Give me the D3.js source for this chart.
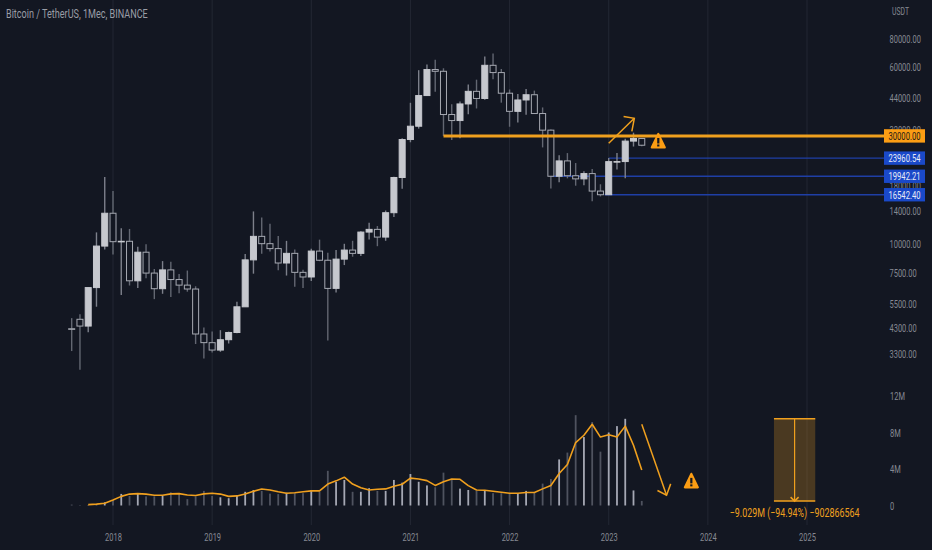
<!DOCTYPE html>
<html><head><meta charset="utf-8">
<script src="https://cdn.jsdelivr.net/npm/d3@7/dist/d3.min.js"></script>
<style>html,body{margin:0;padding:0;background:#131722;overflow:hidden}
svg text{font-family:Roboto,"Liberation Sans",sans-serif}</style>
</head><body><svg id="c" width="932" height="550"></svg>
<script>
// Month index 0 = Aug 2017
const opens=[4261,4689,4378,6463,9837,13715,10285,10326,6922,9246,7485,6391,7730,7011,6626,6369,4041,3701,3434,3814,4102,5320,8555,10854,10080,9588,8289,9140,7541,7195,9351,8523,6412,8620,9448,9138,11335,11649,10776,13791,19695,28923,33092,45134,58739,57697,37253,35045,41461,47100,43820,61299,56950,46216,38466,43160,45510,37630,31801,19942,23296,20048,19422,20490,17165,16541,23125,23141,28465,29233];
const highs=[4745,4939,6470,11300,19798,17176,11786,11700,9759,10020,7800,8450,8400,7410,7680,6550,4310,4140,4200,4140,5600,9074,13970,13147,12325,10905,10370,9500,7750,9575,10500,9188,9460,10067,10380,11444,12468,12050,14100,19863,29300,41950,58352,61844,64854,59500,41330,42448,50500,53000,67000,69000,59053,47990,45821,48190,47444,40023,31982,24668,25214,22799,20988,21480,18387,23960,25250,29184,31000,29400];
const lows=[3400,2817,4110,5325,9500,9035,6000,6600,6430,7100,5750,6070,5880,6100,6200,3652,3156,3349,3373,3670,4067,5350,7440,9100,9320,7710,7300,6515,6435,6901,8445,3782,6150,8117,8833,8893,10518,9825,10374,13195,17572,28130,32296,44950,46930,30000,28805,29278,37332,39600,43283,53256,42000,32917,34322,37155,37578,26700,17622,18781,19520,18125,18190,15476,16256,16499,21351,19549,26942,27000];
const closes=[4240,4378,6463,9838,13716,10285,10326,6923,9246,7485,6390,7730,7011,6626,6371,4041,3702,3434,3813,4103,5320,8555,10854,10080,9588,8289,9140,7541,7195,9352,8523,6410,8620,9448,9138,11335,11649,10776,13791,19695,28923,33092,45137,58740,57694,37253,35045,41461,47100,43824,61299,56950,46216,38466,43160,45510,37630,31801,19942,23293,20050,19422,20490,17164,16542,23125,23141,28465,29233,27300];
const volumes=[0.1,0.05,0.03,0.03,0.35,0.6,1.27,1.05,1.27,1,1,1.05,1.45,1.27,0.7,1,1.6,1.05,0.9,0.8,1.15,1.5,1.7,1.6,1.3,1.25,1.4,1.35,1.35,1.7,1.5,3.8,2.6,2.8,1.5,1.5,1.9,1.6,1.6,2.8,2.5,3.45,2.6,2.2,2.0,3.6,2.8,1.85,1.7,1.6,1.7,1.35,1.35,1.35,1.35,1.6,1.4,2.4,2.9,5.05,5.8,9.9,7.5,9.15,5.9,8.0,8.7,9.5,1.65,0.5];
const volumeMA=[null,null,.1,.15,.25,.6,1.0,1.25,1.3,1.25,1.13,1.13,1.27,1.3,1.15,1.1,1.27,1.35,1.25,1.0,1.05,1.27,1.55,1.8,1.7,1.5,1.35,1.4,1.5,1.6,1.6,2.35,2.7,3.1,2.35,1.95,1.7,1.78,1.82,2.1,2.33,3.0,2.9,2.73,2.2,2.6,2.9,2.87,2.18,1.7,1.67,1.56,1.45,1.35,1.35,1.42,1.42,1.82,2.2,3.5,4.5,6.9,7.7,8.9,7.5,7.75,7.5,8.7,6.6,3.9];
const yearLabels=["2018","2019","2020","2021","2022","2023","2024","2025"];
const yearIndex=[5,17,29,41,53,65,77,89];
const priceTicks=[80000,60000,44000,32000,18000,14000,10000,7500,5500,4300,3300];
const volumeTicks=[0,4,8,12];
const volumeTickLabels=["0","4M","8M","12M"];
const titleText="Bitcoin / TetherUS, 1Mec, BINANCE";
const blueLevels=[23960.54,19942.21,16542.40];
const blueStart=[65,58,64.5];
const orangeLevel=30000, orangeStart=45;
const arrowUpIdx=[65,68.1,66.8,68.1,67.8], arrowUpPrice=[27870,35860,36470,35860,31400];
const arrowDownIdx=[69,72,70.9,72,72.5], arrowDownVol=[8.9,1.12,1.64,1.12,2.37];
const measureIdx=[85,90], measureVol=[9.5,0.48];
const measureText="\u22129.029M (\u221294.94%) \u2212902866564";

const ORANGE="#f0a01e", BG="#131722", TICK="#868992";
const K=0.68; // horizontal squeeze to the reference's condensed face
const svg=d3.select("#c");
const x=d3.scaleLinear().domain([5,89]).range([113,807]);
const y=d3.scaleLog().domain([3300,80000]).range([354,39]);
const v=d3.scaleLinear().domain([0,12]).range([505.5,396]);
const idx=d3.range(opens.length);
const squeeze=(sel,k)=>sel.attr("transform",`scale(${k},1)`);
const place=(sel,px,py,w)=>{const n=sel.node().getComputedTextLength();return sel.attr("transform",`translate(${px},${py}) scale(${w/n},1)`);};

svg.append("rect").attr("width",932).attr("height",550).attr("fill",BG);
svg.append("g").selectAll("line").data(yearIndex).join("line")
 .attr("x1",d=>x(d)).attr("x2",d=>x(d)).attr("y1",0).attr("y2",525)
 .attr("stroke","#232733").attr("stroke-width",1);

const xa=svg.append("g").attr("transform","translate(0,525)")
 .call(d3.axisBottom(x).tickValues(yearIndex).tickSize(0).tickPadding(8).tickFormat((d,i)=>yearLabels[i]));
xa.select(".domain").remove();
squeeze(xa.selectAll("text").attr("fill",TICK).attr("font-size",11),K);
const pa=svg.append("g").attr("transform","translate(889.5,0)")
 .call(d3.axisRight(y).tickValues(priceTicks).tickSize(0).tickPadding(0).tickFormat(d=>d.toFixed(2)));
pa.select(".domain").remove();
squeeze(pa.selectAll("text").attr("fill",TICK).attr("font-size",11),K);
const va=svg.append("g").attr("transform","translate(890,0)")
 .call(d3.axisRight(v).tickValues(volumeTicks).tickSize(0).tickPadding(0).tickFormat((d,i)=>volumeTickLabels[i]));
va.select(".domain").remove();
squeeze(va.selectAll("text").attr("fill",TICK).attr("font-size",11),K);
place(svg.append("text").attr("fill",TICK).attr("font-size",11).text("USDT"),892,15,17);
place(svg.append("text").attr("fill","#9a9da6").attr("font-size",12).text(titleText),6,18,142);

svg.append("g").selectAll("rect").data(idx).join("rect")
 .attr("x",i=>x(i)-0.9).attr("width",1.8)
 .attr("y",i=>v(volumes[i])).attr("height",i=>v(0)-v(volumes[i]))
 .attr("fill",i=>closes[i]>=opens[i]?"#a5a8b4":"#4f535f");

svg.append("g").selectAll("line").data(blueLevels).join("line")
 .attr("x1",(d,i)=>x(blueStart[i])).attr("x2",885).attr("y1",d=>y(d)).attr("y2",d=>y(d))
 .attr("stroke","#1f3fa6").attr("stroke-width",1.4);

const c=svg.append("g").selectAll("g").data(idx).join("g");
c.append("line").attr("x1",i=>x(i)).attr("x2",i=>x(i))
 .attr("y1",i=>y(highs[i])).attr("y2",i=>y(lows[i]))
 .attr("stroke",i=>closes[i]>=opens[i]?"#7d808b":"#636772").attr("stroke-width",1.4);
c.append("rect").attr("x",i=>x(i)-3).attr("width",6)
 .attr("y",i=>y(Math.max(opens[i],closes[i])))
 .attr("height",i=>Math.max(0.6,Math.abs(y(opens[i])-y(closes[i]))))
 .attr("fill",i=>closes[i]>=opens[i]?"#c6c8ce":BG)
 .attr("stroke",i=>closes[i]>=opens[i]?"#c6c8ce":"#a6a9b2").attr("stroke-width",1);

svg.append("line").attr("x1",x(orangeStart)).attr("x2",885).attr("y1",y(orangeLevel)).attr("y2",y(orangeLevel))
 .attr("stroke",ORANGE).attr("stroke-width",3);

const lab=(val,fill,tc)=>{
 const g=svg.append("g").attr("transform",`translate(0,${y(val)})`);
 g.append("rect").attr("x",884).attr("y",-6.7).attr("width",41).attr("height",13.4).attr("fill",fill);
 place(g.append("text").attr("text-anchor","middle").attr("fill",tc).attr("font-size",11).text(val.toFixed(2)),904.5,4,32);
};
lab(orangeLevel,"#fb9d14","#1b1a18");
blueLevels.forEach(d=>lab(d,"#1a49c9","#e6ebf7"));

svg.append("path").attr("fill","none").attr("stroke",ORANGE).attr("stroke-width",1.6).attr("stroke-linejoin","round")
 .attr("d",d3.line().defined(i=>volumeMA[i]!=null).x(i=>x(i)).y(i=>v(volumeMA[i]))(idx));

const poly=(px)=>svg.append("path").attr("fill","none").attr("stroke",ORANGE).attr("stroke-width",1.5).attr("d",d3.line()(px));
poly([0,1].map(k=>[x(arrowUpIdx[k]),y(arrowUpPrice[k])]));
poly([2,3,4].map(k=>[x(arrowUpIdx[k]),y(arrowUpPrice[k])]));
poly([0,1].map(k=>[x(arrowDownIdx[k]),v(arrowDownVol[k])]));
poly([2,3,4].map(k=>[x(arrowDownIdx[k]),v(arrowDownVol[k])]));

const warn=(cx,cy)=>{
 const g=svg.append("g").attr("transform",`translate(${cx},${cy})`);
 g.append("path").attr("d","M0,-7L6.5,6.5L-6.5,6.5Z").attr("fill","#fb9d14").attr("stroke","#fb9d14").attr("stroke-width",2.2).attr("stroke-linejoin","round");
 g.append("rect").attr("x",-1.1).attr("y",-3).attr("width",2.2).attr("height",5.5).attr("fill",BG);
 g.append("rect").attr("x",-1.1).attr("y",3.5).attr("width",2.2).attr("height",2).attr("fill",BG);
};
warn(x(71),y(28500));
warn(x(75),v(2.7));

const mx0=x(measureIdx[0]),mx1=x(measureIdx[1]),mt=v(measureVol[0]),mb=v(measureVol[1]),mc=(mx0+mx1)/2;
svg.append("rect").attr("x",mx0).attr("y",mt).attr("width",mx1-mx0).attr("height",mb-mt).attr("fill",ORANGE).attr("fill-opacity",0.25);
[mt,mb].forEach(t=>svg.append("line").attr("x1",mx0).attr("x2",mx1).attr("y1",t).attr("y2",t).attr("stroke",ORANGE).attr("stroke-width",1.5));
svg.append("line").attr("x1",mc).attr("x2",mc).attr("y1",mt).attr("y2",mb).attr("stroke",ORANGE).attr("stroke-width",1.2);
poly([[mc-4,mb-4],[mc,mb],[mc+4,mb-4]]);
place(svg.append("text").attr("text-anchor","middle").attr("fill",ORANGE).attr("font-size",12).text(measureText),mc,517,130);
</script></body></html>
